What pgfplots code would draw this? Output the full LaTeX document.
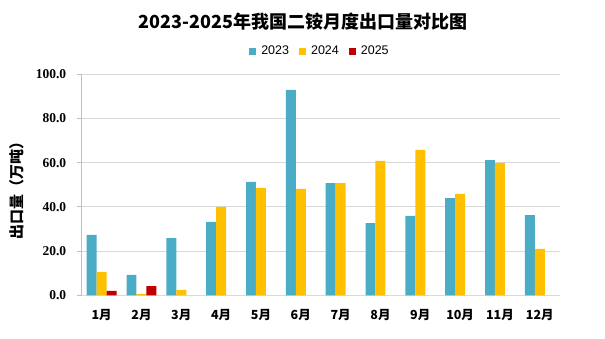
\documentclass[border=0pt]{standalone}
\usepackage{pgfplots}
\pgfplotsset{compat=1.18}
\usepackage{fontspec}
\setmainfont{Liberation Sans}
\newfontfamily\cjk{Noto Sans CJK SC}
\newfontfamily\tnr{Liberation Serif}
\definecolor{c23}{HTML}{4BACC6}
\definecolor{c24}{HTML}{FFC000}
\definecolor{c25}{HTML}{C00000}
\definecolor{gridc}{HTML}{D9D9D9}
\definecolor{axc}{HTML}{BFBFBF}
\begin{document}
\begin{tikzpicture}
\path[use as bounding box] (-81.7pt,-43.7pt) rectangle (523.3pt,295.3pt);
\begin{axis}[
  at={(0pt,0pt)}, anchor=south west,
  scale only axis, width=478pt, height=221pt,
  ybar=0pt, bar width=0.25,
  xmin=-0.5, xmax=11.5, ymin=0, ymax=100,
  xtick={0,...,11},
  xticklabels={1月,2月,3月,4月,5月,6月,7月,8月,9月,10月,11月,12月},
  xticklabel style={font=\cjk\bfseries\fontsize{12.5}{12.5}\selectfont, yshift=-6pt},
  ytick={0,20,...,100},
  yticklabel style={font=\tnr\bfseries\fontsize{13.5}{13.5}\selectfont, xshift=-7pt},
  /pgf/number format/assume math mode=true,
  /pgf/number format/.cd, fixed, fixed zerofill, precision=1, /pgfplots/.cd,
  axis x line*=bottom, axis y line*=left,
  axis line style={draw=axc, line width=0.8pt},
  x axis line style={draw=gridc},
  major x tick style={draw=none},
  major y tick style={draw=axc, line width=0.8pt},
  tick align=outside, major tick length=5pt,
  ymajorgrids, grid style={draw=gridc, line width=0.8pt},
  ylabel={出口量（万吨）},
  ylabel style={font=\cjk\bfseries\fontsize{15}{15}\selectfont, at={(axis description cs:-0.135,0.49)}, anchor=center},
  legend columns=3,
  legend style={draw=none, fill=none, at={(0.4985,1.105)}, anchor=center,
    font=\fontsize{12.5}{12.5}\selectfont, column sep=3pt,
    /tikz/every even column/.append style={column sep=8pt}},
  legend image code/.code={\fill[#1] (0pt,-3.5pt) rectangle (7pt,3.5pt);},
  clip=false,
]
\addplot[fill=c23, draw=none] coordinates {(0,27.3) (1,9.2) (2,25.9) (3,33.2) (4,51.3) (5,92.9) (6,50.8) (7,32.7) (8,35.9) (9,44.0) (10,61.2) (11,36.3)};
\addplot[fill=c24, draw=none] coordinates {(0,10.6) (1,0.6) (2,2.4) (3,40.0) (4,48.6) (5,48.1) (6,50.8) (7,60.8) (8,65.8) (9,45.9) (10,59.9) (11,21.0)};
\addplot[fill=c25, draw=none] coordinates {(0,2.0) (1,4.2)};
\legend{2023,2024,2025}
\end{axis}
\node[font=\cjk\bfseries\fontsize{18}{18}\selectfont] at (221.3pt,273.3pt) {2023-2025年我国二铵月度出口量对比图};
\end{tikzpicture}
\end{document}
